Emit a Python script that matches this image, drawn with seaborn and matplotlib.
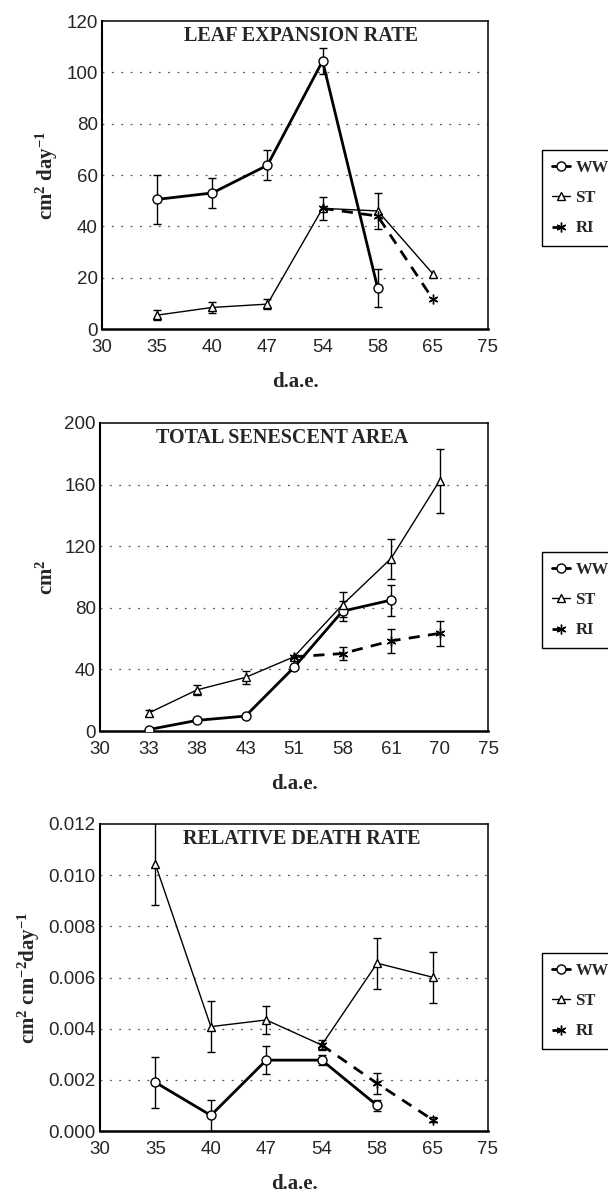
import numpy as np
import pandas as pd
import matplotlib
matplotlib.use("Agg")
import matplotlib.pyplot as plt
import seaborn as sns

# x axis labels (the axis is spaced by sampling date, not by value)
ticks_a = [30, 35, 40, 47, 54, 58, 65, 75]
ticks_b = [30, 33, 38, 43, 51, 58, 61, 70, 75]

# Leaf expansion rate (cm2 day-1)
ler_ww_day = [35, 40, 47, 54, 58]
ler_ww = [50.5, 53.0, 63.8, 104.4, 15.9]
ler_ww_err = [9.5, 5.8, 5.8, 5.0, 7.5]
ler_st_day = [35, 40, 47, 54, 58, 65]
ler_st = [5.4, 8.4, 9.7, 47.0, 46.0, 21.5]
ler_st_err = [2.0, 2.0, 2.0, 4.5, 7.0, 0.0]
ler_ri_day = [54, 58, 65]
ler_ri = [47.0, 44.0, 11.6]
ler_ri_err = [0.0, 0.0, 0.0]

# Total senescent area (cm2)
tsa_ww_day = [33, 38, 43, 51, 58, 61]
tsa_ww = [0.9, 6.9, 9.7, 41.3, 77.8, 85.0]
tsa_ww_err = [0.0, 0.0, 0.0, 0.0, 6.5, 10.0]
tsa_st_day = [33, 38, 43, 51, 58, 61, 70]
tsa_st = [11.6, 26.7, 34.8, 48.2, 82.0, 112.0, 162.4]
tsa_st_err = [2.0, 3.0, 4.0, 0.0, 8.0, 13.0, 21.0]
tsa_ri_day = [51, 58, 61, 70]
tsa_ri = [48.2, 50.3, 58.5, 63.4]
tsa_ri_err = [0.0, 4.0, 8.0, 8.0]

# Relative death rate (cm2 cm-2 day-1)
rdr_ww_day = [35, 40, 47, 54, 58]
rdr_ww = [0.0019, 0.00061, 0.00277, 0.00277, 0.0010]
rdr_ww_err = [0.001, 0.0006, 0.00055, 0.0002, 0.0002]
rdr_st_day = [35, 40, 47, 54, 58, 65]
rdr_st = [0.01042, 0.00408, 0.00434, 0.00336, 0.00656, 0.00601]
rdr_st_err = [0.0016, 0.001, 0.00055, 0.0002, 0.001, 0.001]
rdr_ri_day = [54, 58, 65]
rdr_ri = [0.00336, 0.00186, 0.00044]
rdr_ri_err = [0.0, 0.0004, 0.0001]

titles = ["LEAF EXPANSION RATE", "TOTAL SENESCENT AREA", "RELATIVE DEATH RATE"]
ylabels = ["cm$^{2}$ day$^{-1}$", "cm$^{2}$", "cm$^{2}$ cm$^{-2}$day$^{-1}$"]

sns.set_style("white")
plt.rcParams["font.family"] = ["Liberation Sans", "DejaVu Sans"]
plt.rcParams["mathtext.fontset"] = "custom"
plt.rcParams["mathtext.rm"] = "Liberation Serif:bold"
plt.rcParams["mathtext.it"] = "Liberation Serif:bold"
plt.rcParams["mathtext.bf"] = "Liberation Serif:bold"
SERIF = ["Liberation Serif", "DejaVu Serif"]

styles = {
    "WW": dict(marker="o", lw=2.0, ls="-", ms=6.5),
    "ST": dict(marker="^", lw=1.0, ls="-", ms=6.0),
    "RI": dict(marker=(6, 2, 0), lw=2.0, ls=(0, (4, 3)), ms=7.0),
}


def draw_series(ax, ticks, name, days, vals, errs):
    pos = [ticks.index(d) for d in days]
    st = styles[name]
    df = pd.DataFrame({"x": pos, "y": vals})
    sns.lineplot(data=df, x="x", y="y", ax=ax, color="black", label=name,
                 linewidth=st["lw"], linestyle=st["ls"], marker=st["marker"],
                 markersize=st["ms"], markerfacecolor="white",
                 markeredgecolor="black", markeredgewidth=1.0, zorder=3)
    e = np.array(errs)
    keep = e > 0
    if keep.any():
        ax.errorbar(np.array(pos)[keep], np.array(vals)[keep], yerr=e[keep],
                    fmt="none", ecolor="black", elinewidth=1.0, capsize=3,
                    capthick=1.0, zorder=2)


fig = plt.figure(figsize=(6.08, 11.94), dpi=100)
rects = [
    [102 / 608, 1 - 329 / 1194, 386 / 608, 308 / 1194],
    [100 / 608, 1 - 731 / 1194, 388 / 608, 308 / 1194],
    [100 / 608, 1 - 1131 / 1194, 388 / 608, 307 / 1194],
]
panels = [
    (ticks_a, [(ler_ww_day, ler_ww, ler_ww_err), (ler_st_day, ler_st, ler_st_err),
               (ler_ri_day, ler_ri, ler_ri_err)], (0, 120), np.arange(0, 121, 20), "{:.0f}"),
    (ticks_b, [(tsa_ww_day, tsa_ww, tsa_ww_err), (tsa_st_day, tsa_st, tsa_st_err),
               (tsa_ri_day, tsa_ri, tsa_ri_err)], (0, 200), np.arange(0, 201, 40), "{:.0f}"),
    (ticks_a, [(rdr_ww_day, rdr_ww, rdr_ww_err), (rdr_st_day, rdr_st, rdr_st_err),
               (rdr_ri_day, rdr_ri, rdr_ri_err)], (0, 0.012), np.arange(0, 0.0121, 0.002), "{:.3f}"),
]
title_x = [0.516, 0.47, 0.52]
legend_top = [150, 552, 953]

for i, (ticks, series, ylim, yt, fmt) in enumerate(panels):
    ax = fig.add_axes(rects[i])
    for name, (d, v, e) in zip(["WW", "ST", "RI"], series):
        draw_series(ax, ticks, name, d, v, e)

    ax.set_xlim(0, len(ticks) - 1)
    ax.set_ylim(*ylim)
    ax.set_xticks(range(len(ticks)))
    ax.set_xticklabels([str(t) for t in ticks])
    ax.set_yticks(yt)
    ax.set_yticklabels([fmt.format(t) for t in yt])
    ax.tick_params(axis="both", labelsize=13.5, direction="in", length=3,
                   color="black", pad=3)
    ax.tick_params(axis="x", pad=7)
    for t in yt[1:-1]:
        ax.axhline(t, color="#555555", lw=0.9, ls=(0, (1.5, 6)), zorder=1)
    for sp in ax.spines.values():
        sp.set_color("black")
        sp.set_linewidth(1.1)
    ax.spines["left"].set_linewidth(1.5)
    ax.spines["bottom"].set_linewidth(1.8)

    ax.set_xlabel("d.a.e.", family=SERIF, fontweight="bold", fontsize=15, labelpad=12)
    ax.set_ylabel(ylabels[i], family=SERIF, fontweight="bold", fontsize=15, labelpad=5)
    ax.text(title_x[i], 0.95, titles[i], transform=ax.transAxes, ha="center",
            va="center", family=SERIF, fontweight="bold", fontsize=14.5)

    handles, labels = ax.get_legend_handles_labels()
    leg = ax.legend(handles, labels, loc="upper left",
                    bbox_to_anchor=(542 / 608, 1 - legend_top[i] / 1194),
                    bbox_transform=fig.transFigure, borderaxespad=0,
                    frameon=True, fancybox=False, framealpha=1, edgecolor="black",
                    handlelength=1.1, handletextpad=0.3, labelspacing=0.85,
                    borderpad=0.6, prop={"family": SERIF, "weight": "bold", "size": 12})
    leg.get_frame().set_linewidth(1.0)

fig.savefig("out.png", dpi=100)
